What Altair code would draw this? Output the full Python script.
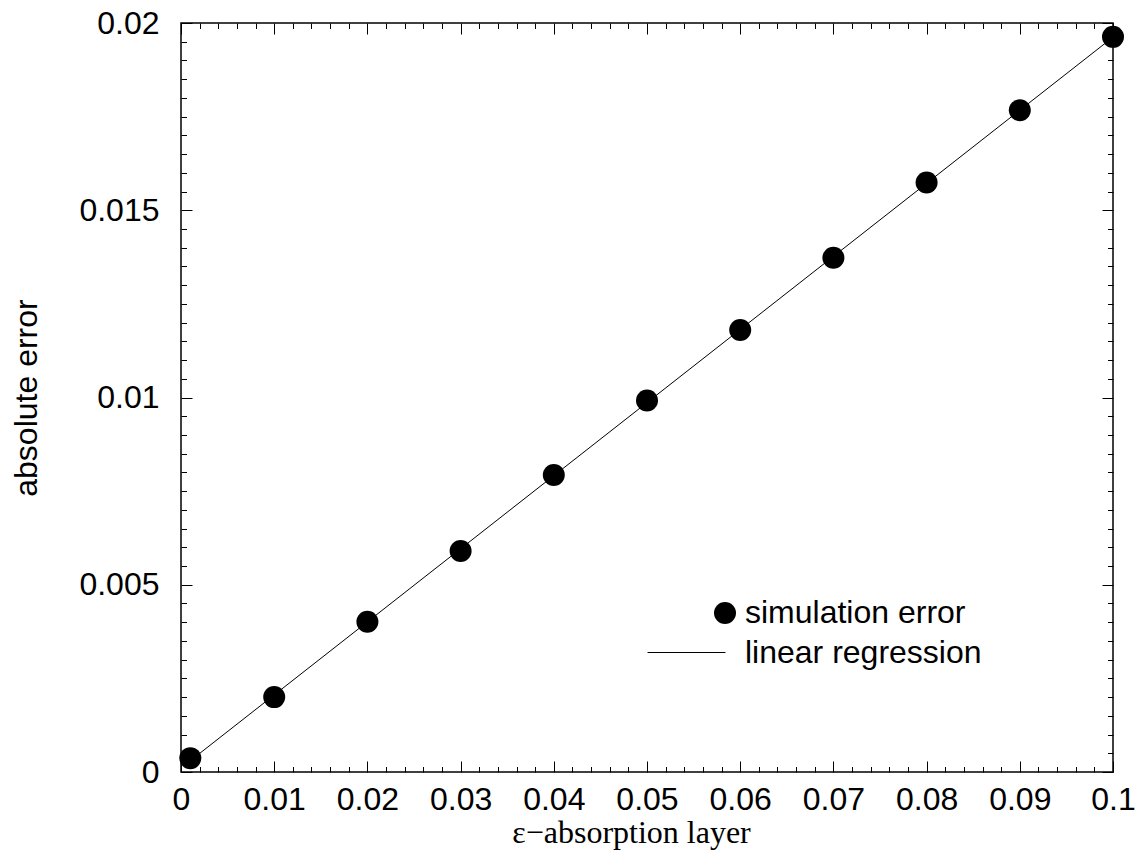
import altair as alt
import pandas as pd

# ---- data ----
eps = [0.001, 0.01, 0.02, 0.03, 0.04, 0.05, 0.06, 0.07, 0.08, 0.09, 0.1]
abs_err = [0.00037, 0.0020, 0.00401, 0.0059, 0.00793, 0.00992, 0.0118,
           0.01373, 0.01574, 0.01767, 0.01963]
series_names = ["simulation error", "linear regression"]

x_major = [0, 0.01, 0.02, 0.03, 0.04, 0.05, 0.06, 0.07, 0.08, 0.09, 0.1]
x_minor = [round(i * 0.002, 4) for i in range(1, 50) if i % 5 != 0]
y_major = [0, 0.005, 0.01, 0.015, 0.02]
y_minor = [round(i * 0.0005, 5) for i in range(1, 40) if i % 10 != 0]

df = pd.DataFrame({"x": eps, "y": abs_err, "series": series_names[0]})

W, H = 932, 749
MAJ, MIN = 11, 5.5

xscale = alt.Scale(domain=[0, 0.1], nice=False, zero=False)
yscale = alt.Scale(domain=[0, 0.02], nice=False, zero=False)

common = dict(domain=False, grid=False, tickColor="black", tickWidth=1)

ax_bottom = alt.Axis(orient="bottom", values=x_major, tickSize=MAJ, offset=-MAJ,
                     labels=True, format="~g", labelFlush=False, labelOverlap=False,
                     labelPadding=12, labelFont="Liberation Sans", labelFontSize=32,
                     labelColor="black",
                     title="ε−absorption layer", titleFont="Liberation Serif",
                     titleFontSize=32, titleFontWeight="normal", titleColor="black",
                     titleBaseline="alphabetic", titleAlign="center",
                     titleX=450, titleY=81, **common)
ax_bottom_minor = alt.Axis(orient="bottom", values=x_minor, tickSize=MIN, offset=-MIN,
                           labels=False, title=None, **common)
ax_top = alt.Axis(orient="top", values=x_major, tickSize=MAJ, offset=-MAJ,
                  labels=False, title=None, **common)
ax_top_minor = alt.Axis(orient="top", values=x_minor, tickSize=MIN, offset=-MIN,
                        labels=False, title=None, **common)

ax_left = alt.Axis(orient="left", values=y_major, tickSize=MAJ, offset=-MAJ,
                   labels=True, format="~g", labelFlush=False, labelOverlap=False,
                   labelPadding=22, labelFont="Liberation Sans", labelFontSize=32,
                   labelColor="black",
                   title="absolute error", titleFont="Liberation Sans",
                   titleFontSize=32, titleFontWeight="normal", titleColor="black",
                   titleBaseline="alphabetic", titleAlign="center", titleAngle=270,
                   titleX=-156, titleY=374.5, **common)
ax_left_minor = alt.Axis(orient="left", values=y_minor, tickSize=MIN, offset=-MIN,
                         labels=False, title=None, **common)
ax_right = alt.Axis(orient="right", values=y_major, tickSize=MAJ, offset=-MAJ,
                    labels=False, title=None, **common)
ax_right_minor = alt.Axis(orient="right", values=y_minor, tickSize=MIN, offset=-MIN,
                          labels=False, title=None, **common)

legend_common = dict(title=None, orient="none", padding=0,
                     labelFont="Liberation Sans", labelFontSize=32,
                     labelColor="black", labelLimit=0)

base = alt.Chart(df)

line = base.transform_regression("x", "y").transform_calculate(
    series="'" + series_names[1] + "'"
).mark_line(strokeWidth=1).encode(
    x=alt.X("x:Q", scale=xscale, axis=ax_bottom),
    y=alt.Y("y:Q", scale=yscale, axis=ax_left),
    color=alt.Color(
        "series:N",
        scale=alt.Scale(domain=[series_names[1]], range=["black"]),
        legend=alt.Legend(legendX=466, legendY=590, symbolSize=6084,
                          symbolStrokeWidth=1, labelOffset=19, **legend_common),
    ),
)

points = base.mark_point(
    filled=True, color="black", opacity=1, size=484
).encode(
    x=alt.X("x:Q", scale=xscale, axis=ax_bottom_minor),
    y=alt.Y("y:Q", scale=yscale, axis=ax_left_minor),
    shape=alt.Shape(
        "series:N",
        scale=alt.Scale(domain=[series_names[0]], range=["circle"]),
        legend=alt.Legend(legendX=528, legendY=574, symbolSize=484,
                          symbolFillColor="black", labelOffset=4, **legend_common),
    ),
)

top = base.mark_point(opacity=0).encode(
    x=alt.X("x:Q", scale=xscale, axis=ax_top),
    y=alt.Y("y:Q", scale=yscale, axis=ax_right),
)
top_minor = base.mark_point(opacity=0).encode(
    x=alt.X("x:Q", scale=xscale, axis=ax_top_minor),
    y=alt.Y("y:Q", scale=yscale, axis=ax_right_minor),
)

chart = alt.layer(line, points, top, top_minor).resolve_axis(
    x="independent", y="independent"
).properties(
    width=W, height=H,
    autosize=alt.AutoSizeParams(type="none"),
    padding={"left": 181, "top": 23, "right": 24, "bottom": 93},
    background="white",
).configure_view(stroke="black", strokeWidth=1.5)

chart.save("out.html", embed_options={"renderer": "svg", "actions": False})
